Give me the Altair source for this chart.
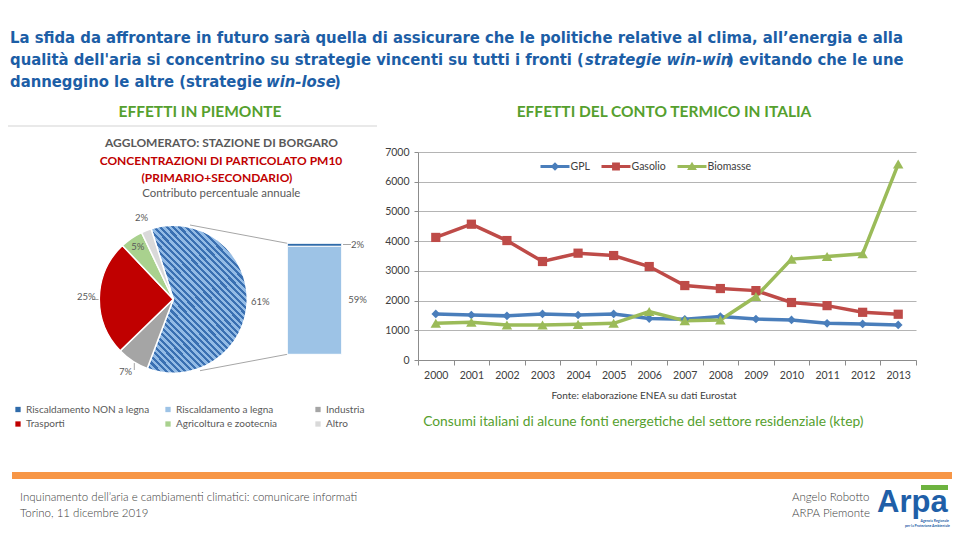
import math
import altair as alt
import pandas as pd

# ------------------------------------------------------------------ data
years = [2000, 2001, 2002, 2003, 2004, 2005, 2006, 2007, 2008, 2009, 2010, 2011, 2012, 2013]
gpl = [1550, 1515, 1485, 1550, 1515, 1550, 1395, 1370, 1460, 1380, 1350, 1235, 1215, 1180]
gasolio = [4125, 4570, 4020, 3315, 3595, 3515, 3145, 2505, 2405, 2335, 1935, 1830, 1605, 1540]
biomasse = [1235, 1270, 1180, 1180, 1200, 1235, 1630, 1325, 1350, 2135, 3395, 3485, 3575, 6595]
series_names = ["GPL", "Gasolio", "Biomasse"]
series_colors = ["#4A7EBB", "#BE4B48", "#9BBB59"]
y_ticks = [0, 1000, 2000, 3000, 4000, 5000, 6000, 7000]

pie_cats = ["Riscaldamento a legna", "Industria", "Trasporti", "Agricoltura e zootecnia", "Altro"]
pie_vals = [60.6, 7.0, 25.2, 5.0, 2.2]
bar_cats = ["Riscaldamento a legna", "Riscaldamento NON a legna"]
bar_vals = [59.0, 1.6]
legend_cats = ["Riscaldamento NON a legna", "Riscaldamento a legna", "Industria",
               "Trasporti", "Agricoltura e zootecnia", "Altro"]
legend_colors = ["#2F6BAA", "#9DC3E6", "#A5A5A5", "#C00000", "#A9D18E", "#D9D9D9"]

# ------------------------------------------------------------------ helpers
FONT = "Lato"
HFONT = "Liberation Sans Narrow, Arial Narrow, DejaVu Sans Condensed, sans-serif"
OX, OY = 418, 152          # page position of the line chart's plot origin


def X(p):
    return p - OX


def Y(p):
    return p - OY


ONE = pd.DataFrame({"_": [0]})


def txt(s, x, y, size, color, weight="normal", align="left", font=FONT, style="normal"):
    return alt.Chart(ONE).mark_text(
        text=s, fontSize=size, color=color, fontWeight=weight, align=align,
        baseline="middle", font=font, fontStyle=style
    ).encode(x=alt.value(X(x)), y=alt.value(Y(y)))


def rule(x1, y1, x2, y2, color, width=1.0):
    return alt.Chart(ONE).mark_rule(color=color, strokeWidth=width).encode(
        x=alt.value(X(x1)), y=alt.value(Y(y1)), x2=alt.value(X(x2)), y2=alt.value(Y(y2)))


def rect(x1, y1, x2, y2, color):
    return alt.Chart(ONE).mark_rect(color=color).encode(
        x=alt.value(X(x1)), y=alt.value(Y(y1)), x2=alt.value(X(x2)), y2=alt.value(Y(y2)))


# ------------------------------------------------------------------ line chart
line_df = pd.DataFrame({
    "year": years * 3,
    "series": [series_names[0]] * len(years) + [series_names[1]] * len(years) + [series_names[2]] * len(years),
    "value": gpl + gasolio + biomasse,
})

x_enc = alt.X("year:O", bandPosition=0.5,
              scale=alt.Scale(type="band", paddingInner=0, paddingOuter=0),
              axis=alt.Axis(title=None, labelAngle=0, tickBand="extent", grid=False,
                            domainColor="#8C8C8C", tickColor="#8C8C8C", tickSize=5,
                            labelFont=FONT, labelFontSize=10.5, labelColor="#404040",
                            labelPadding=5))
y_enc = alt.Y("value:Q", scale=alt.Scale(domain=[0, 7000], nice=False),
              axis=alt.Axis(title=None, orient="left", values=y_ticks, format="d", grid=True,
                            gridColor="#B4B4B4", gridWidth=1.2,
                            domainColor="#8C8C8C", tickColor="#8C8C8C", tickSize=4,
                            labelFont=FONT, labelFontSize=10.5, labelColor="#404040",
                            labelPadding=5))
color_scale = alt.Scale(domain=series_names, range=series_colors)
sym_paths = [
    "M-1,-0.1H1V0.1H-1Z M0,-0.3L0.3,0L0,0.3L-0.3,0Z",
    "M-1,-0.1H1V0.1H-1Z M-0.27,-0.27H0.27V0.27H-0.27Z",
    "M-1,-0.1H1V0.1H-1Z M0,-0.32L0.34,0.24L-0.34,0.24Z",
]
line_legend = alt.Legend(orient="none", legendX=X(540.5), legendY=Y(152), direction="horizontal",
                         title=None, labelFont=FONT, labelFontSize=10.5, labelColor="#404040",
                         symbolSize=841, symbolStrokeWidth=0, columnPadding=11, labelOffset=1,
                         symbolOpacity=1)

lbase = alt.Chart(line_df).encode(x=x_enc, y=y_enc)
legend_layer = lbase.transform_filter("false").mark_point(filled=True, size=841).encode(
    color=alt.Color("series:N", scale=color_scale, legend=line_legend),
    shape=alt.Shape("series:N", scale=alt.Scale(domain=series_names, range=sym_paths), legend=line_legend),
)
lines = lbase.mark_line(strokeWidth=3.5).encode(
    color=alt.Color("series:N", scale=color_scale, legend=None))
marks = []
for s, shp, sz in zip(series_names, ["diamond", "square", "triangle-up"], [75, 85, 110]):
    marks.append(
        lbase.transform_filter(alt.datum.series == s).mark_point(
            filled=True, shape=shp, size=sz, opacity=1).encode(
            color=alt.Color("series:N", scale=color_scale, legend=None)))
line_group = alt.layer(legend_layer, lines, *marks)

# ------------------------------------------------------------------ pie + bar of pie
pie_df = pd.DataFrame({"cat": pie_cats, "value": pie_vals})
bar_df = pd.DataFrame({"cat": bar_cats, "value": bar_vals})

cat_scale = alt.Scale(domain=legend_cats, range=legend_colors)
pie_legend = alt.Legend(orient="none", legendX=X(13), legendY=Y(404.5), columns=3, direction="horizontal",
                        title=None, symbolType="square", symbolSize=28, symbolStrokeWidth=0,
                        labelFont=FONT, labelFontSize=10, labelColor="#595959",
                        columnPadding=13, rowPadding=4.5, labelOffset=3, gridAlign="all")

dark, light = "#3A70B2", "#93BBE5"
stops = []
N = 38
for i in range(N):
    a, b, c = i / N, (i + 0.48) / N, (i + 1) / N
    stops += [{"offset": round(a, 4), "color": dark}, {"offset": round(b, 4), "color": dark},
              {"offset": round(b, 4), "color": light}, {"offset": round(c, 4), "color": light}]
hatch = {"gradient": "linear", "x1": 0, "y1": 1, "x2": 0.79, "y2": -0.145, "stops": stops}

a0 = math.radians(-17.5)
tscale = alt.Scale(domain=[0, sum(pie_vals)], range=[a0, a0 + 2 * math.pi])
CX, CY = 173.3, 299.3

pbase = alt.Chart(pie_df).transform_window(k="row_number()").transform_window(
    cum="sum(value)", sort=[alt.SortField("k")]).transform_calculate(
    start="datum.cum - datum.value", mid="datum.cum - datum.value / 2",
    lbl="format(datum.value, '.0f') + '%'",
    r="datum.cat == 'Agricoltura e zootecnia' ? 63 : 87")
arc = pbase.mark_arc(radius=74, stroke="white", strokeWidth=1.5).encode(
    theta=alt.Theta("start:Q", scale=tscale), theta2="cum:Q",
    x=alt.value(X(CX)), y=alt.value(Y(CY)),
    color=alt.condition("datum.k == 1", alt.value(hatch),
                        alt.Color("cat:N", scale=cat_scale, legend=pie_legend)))
arc_lbl = pbase.mark_text(font=FONT, fontSize=9.5, color="#595959").encode(
    theta=alt.Theta("mid:Q", scale=tscale),
    radius=alt.Radius("r:Q", scale=None),
    x=alt.value(X(CX)), y=alt.value(Y(CY)), text="lbl:N")

bar_y = alt.Scale(domain=[0, sum(bar_vals)], range=[Y(354.3), Y(243.3)])
bbase = alt.Chart(bar_df).transform_window(k="row_number()").transform_window(
    cum="sum(value)", sort=[alt.SortField("k")]).transform_calculate(
    start="datum.cum - datum.value", mid="datum.cum - datum.value / 2",
    lbl="format(datum.value, '.0f') + '%'")
bar = bbase.mark_bar(stroke="white", strokeWidth=1).encode(
    x=alt.value(X(287.3)), x2=alt.value(X(341.7)),
    y=alt.Y("cum:Q", scale=bar_y, axis=None), y2="start:Q",
    color=alt.Color("cat:N", scale=cat_scale, legend=pie_legend))
bar_lbl = bbase.mark_text(font=FONT, fontSize=9.5, color="#595959", align="center").encode(
    x=alt.value(X(357.5)), y=alt.Y("mid:Q", scale=bar_y, axis=None), text="lbl:N")

pie_group = alt.layer(
    rule(190, 225, 287.3, 243.3, "#A6A6A6"),
    rule(200, 370.7, 287.3, 354.3, "#A6A6A6"),
    rule(343, 244.5, 351, 244.5, "#A6A6A6"),
    rule(92, 299.5, 100, 299.5, "#A6A6A6"),
    rule(134.3, 363, 134.3, 370, "#A6A6A6"),
    arc, arc_lbl, bar, bar_lbl)

# ------------------------------------------------------------------ slide text
BLUE = "#1C5EA6"
GREEN = "#55A02E"
decor = [
    txt("La sfida da affrontare in futuro sarà quella di assicurare che le politiche relative al clima, all’energia e alla",
        10, 38, 16.5, BLUE, "bold", font=HFONT),
    txt("qualità dell'aria si concentrino su strategie vincenti su tutti i fronti (", 10, 60, 16.5, BLUE, "bold", font=HFONT),
    txt("strategie win-win", 585, 60, 16.5, BLUE, "bold", font=HFONT, style="italic"),
    txt(") evitando che le une", 727, 60, 16.5, BLUE, "bold", font=HFONT),
    txt("danneggino le altre (strategie", 10, 82, 16.5, BLUE, "bold", font=HFONT),
    txt("win-lose", 266, 82, 16.5, BLUE, "bold", font=HFONT, style="italic"),
    txt(")", 334, 82, 16.5, BLUE, "bold", font=HFONT),

    txt("EFFETTI IN PIEMONTE", 200, 111.7, 15.5, GREEN, "bold", "center"),
    rule(0, 126, 377, 126, "#D4D4D4", 1.2),
    txt("AGGLOMERATO: STAZIONE DI BORGARO", 221.5, 143.3, 12, "#595959", "bold", "center"),
    txt("CONCENTRAZIONI DI PARTICOLATO PM10", 221, 161.3, 12, "#C00000", "bold", "center"),
    txt("(PRIMARIO+SECONDARIO)", 217, 177.8, 12, "#C00000", "bold", "center"),
    txt("Contributo percentuale annuale", 221.3, 194, 11.4, "#595959", "normal", "center"),

    txt("EFFETTI DEL CONTO TERMICO IN ITALIA", 664, 111.7, 15.5, GREEN, "bold", "center"),
    txt("Fonte: elaborazione ENEA su dati Eurostat", 644, 396.3, 10, "#404040", "normal", "center"),
    txt("Consumi italiani di alcune fonti energetiche del settore residenziale (ktep)",
        643.3, 422, 13.8, GREEN, "normal", "center"),

    rect(12, 472, 955, 479, "#F79646"),
    txt("Inquinamento dell’aria e cambiamenti climatici: comunicare informati", 20, 498, 11.5, "#404040", 300),
    txt("Torino, 11 dicembre 2019", 20, 514, 11.5, "#404040", 300),
    txt("Angelo Robotto", 792, 498, 11.5, "#404040", 300),
    txt("ARPA Piemonte", 792, 514, 11.5, "#404040", 300),
    rect(921, 485, 948, 490, "#6DB33F"),
    txt("Arpa", 877, 503, 31, "#1F5FA8", "bold", font="Liberation Sans"),
    txt("Agenzia Regionale", 949, 521, 3.5, "#1F5FA8", "bold", "right"),
    txt("per la Protezione Ambientale", 950, 525.5, 3.5, "#1F5FA8", "bold", "right"),
]

chart = alt.layer(line_group, pie_group, *decor).resolve_scale(
    color="independent", y="independent", x="independent", shape="independent"
).properties(
    width=498, height=208,
    padding={"left": 410, "top": 144, "right": 36, "bottom": 172},
    autosize=alt.AutoSizeParams(type="none"),
    background="white",
).configure_view(stroke=None)

chart.save("out.html", embed_options={"renderer": "svg", "actions": False})
